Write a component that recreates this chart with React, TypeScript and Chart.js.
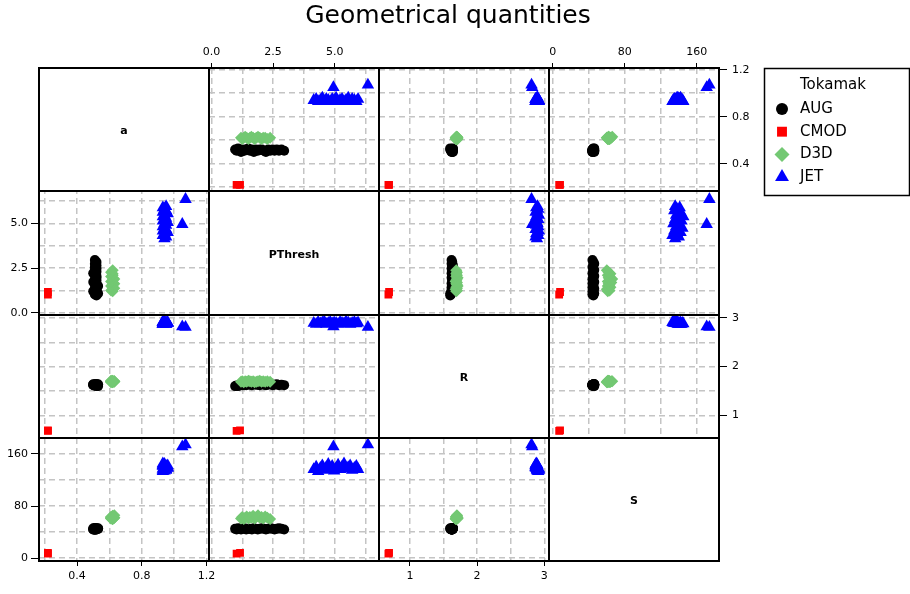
import React, { useEffect, useRef } from 'react';
import { Chart, registerables } from 'chart.js';

Chart.register(...registerables);

// ---------- text ----------
const chartTitle = 'Geometrical quantities';
const legendTitle = 'Tokamak';
const variables = ['a', 'PThresh', 'R', 'S'];
const tokamaks = ['AUG', 'CMOD', 'D3D', 'JET'];

// ---------- data (a, PThresh, R, S) ----------
const augA = [0.52, 0.51, 0.53, 0.52, 0.50, 0.52, 0.51, 0.52, 0.53, 0.51, 0.52, 0.50, 0.52, 0.51, 0.52, 0.52, 0.51, 0.50, 0.52, 0.51, 0.52, 0.51, 0.52, 0.51, 0.52, 0.51];
const augP = [0.96, 1.02, 1.08, 1.14, 1.20, 1.27, 1.34, 1.41, 1.49, 1.56, 1.64, 1.72, 1.80, 1.88, 1.96, 2.05, 2.13, 2.21, 2.30, 2.39, 2.48, 2.56, 2.65, 2.74, 2.84, 2.95];
const augR = [1.60, 1.61, 1.60, 1.62, 1.63, 1.62, 1.63, 1.62, 1.64, 1.63, 1.62, 1.64, 1.63, 1.63, 1.62, 1.64, 1.63, 1.62, 1.63, 1.64, 1.62, 1.63, 1.64, 1.62, 1.63, 1.62];
const augS = [45, 44, 46, 45, 44, 45, 46, 44, 45, 45, 44, 46, 45, 44, 45, 46, 45, 44, 45, 46, 45, 44, 45, 46, 45, 44];

const cmodA = [0.22, 0.22];
const cmodP = [1.02, 1.16];
const cmodR = [0.68, 0.69];
const cmodS = [7, 8];

const d3dA = [0.62, 0.61, 0.62, 0.63, 0.62, 0.61, 0.62, 0.63, 0.62, 0.61, 0.62, 0.63, 0.62, 0.61, 0.62, 0.62, 0.61, 0.62];
const d3dP = [1.20, 1.25, 1.31, 1.37, 1.43, 1.50, 1.56, 1.62, 1.69, 1.75, 1.82, 1.89, 1.96, 2.03, 2.10, 2.18, 2.27, 2.38];
const d3dR = [1.69, 1.70, 1.68, 1.70, 1.69, 1.71, 1.70, 1.69, 1.70, 1.68, 1.69, 1.70, 1.71, 1.69, 1.70, 1.69, 1.70, 1.69];
const d3dS = [61, 63, 60, 62, 64, 61, 63, 62, 65, 61, 63, 66, 62, 63, 61, 64, 62, 60];

const jetA = [0.94, 0.95, 0.93, 0.94, 0.96, 0.93, 0.95, 0.94, 0.93, 0.95, 0.94, 0.96, 0.93, 0.94, 0.95, 0.93, 0.94, 0.96, 0.93, 0.95, 0.94, 0.93, 0.95, 1.05, 1.07];
const jetP = [4.15, 4.25, 4.33, 4.42, 4.50, 4.58, 4.66, 4.74, 4.82, 4.90, 4.98, 5.06, 5.14, 5.22, 5.30, 5.38, 5.46, 5.55, 5.63, 5.71, 5.80, 5.88, 5.95, 4.95, 6.35];
const jetR = [2.89, 2.87, 2.91, 2.88, 2.90, 2.92, 2.87, 2.89, 2.91, 2.88, 2.90, 2.89, 2.87, 2.91, 2.89, 2.88, 2.92, 2.90, 2.87, 2.89, 2.91, 2.88, 2.90, 2.82, 2.81];
const jetS = [136, 140, 133, 138, 142, 135, 139, 144, 137, 141, 134, 138, 143, 136, 140, 145, 137, 139, 142, 135, 138, 141, 136, 171, 174];

// ---------- axes ----------
const axisMin = [0.165, -0.1, 0.54, -4.3];
const axisMax = [1.215, 6.8, 3.07, 184.7];

const aTicks = [0.4, 0.8, 1.2];
const pTicks = [0, 2.5, 5];
const rTicks = [1, 2, 3];
const sTicks = [0, 80, 160];
const aTickLabels = ['0.4', '0.8', '1.2'];
const pTickLabels = ['0.0', '2.5', '5.0'];
const rTickLabels = ['1', '2', '3'];
const sTickLabels = ['0', '80', '160'];
const aGrid = [0.2, 0.4, 0.6, 0.8, 1.0, 1.2];
const pGrid = [0, 1.25, 2.5, 3.75, 5, 6.25];
const rGrid = [1, 1.5, 2, 2.5, 3];
const sGrid = [0, 40, 80, 120, 160];

// ---------- styles ----------
const FONT = '"DejaVu Sans", Verdana, sans-serif';
const COLORS = ['#000000', '#ff0000', 'rgb(115,200,115)', '#0000ff'];
const SHAPES = ['circle', 'rect', 'rectRot', 'triangle'];
const RADII = [5, 5.5, 6, 7.2];
const LEGEND_RADII = [6, 7, 7.5, 8];

const groupVars = [
  [augA, augP, augR, augS],
  [cmodA, cmodP, cmodR, cmodS],
  [d3dA, d3dP, d3dR, d3dS],
  [jetA, jetP, jetR, jetS],
];

function buildDatasets() {
  const ds: any[] = [];
  for (let i = 0; i < 4; i++) {
    for (let j = 0; j < 4; j++) {
      if (i === j) continue;
      for (let g = 0; g < 4; g++) {
        const v = groupVars[g];
        ds.push({
          label: tokamaks[g],
          data: v[0].map((_: number, k: number) => ({ x: v[j][k], y: v[i][k] })),
          xAxisID: 'xb' + j,
          yAxisID: 'yl' + i,
          showLine: false,
          pointStyle: SHAPES[g],
          pointRadius: RADII[g],
          pointHoverRadius: RADII[g],
          pointBackgroundColor: COLORS[g],
          pointBorderColor: COLORS[g],
          pointBorderWidth: 0,
          backgroundColor: COLORS[g],
          borderColor: COLORS[g],
          order: 3 - g,
        });
      }
    }
  }
  return ds;
}

function buildScales() {
  const tickLists = [aTicks, pTicks, rTicks, sTicks];
  const labelLists = [aTickLabels, pTickLabels, rTickLabels, sTickLabels];
  const gridLists = [aGrid, pGrid, rGrid, sGrid];
  const xLabelPos = ['bottom', 'top', 'bottom', 'top'];
  const yLabelPos = ['right', 'left', 'right', 'left'];
  const sizes: any = { top: 68, bottom: 33, left: 39, right: 191 };
  const tickLen: any = { top: 5, bottom: 5, left: 8, right: 8 };
  const tickPad: any = { top: 4, bottom: 4, left: 3, right: 5 };
  const scales: any = {};
  const build = (axis: string, position: string, k: number, labelled: boolean, weight: number) => {
    const vals = labelled ? tickLists[k] : gridLists[k];
    return {
      type: 'linear',
      axis,
      position,
      stack: axis === 'x' ? 'cols' : 'rows',
      stackWeight: 1,
      weight,
      min: axisMin[k],
      max: axisMax[k],
      afterBuildTicks: (s: any) => {
        s.ticks = vals.map((v: number) => ({ value: v }));
      },
      afterFit: (s: any) => {
        if (axis === 'x') s.height = sizes[position];
        else s.width = sizes[position];
      },
      ticks: {
        display: labelled,
        autoSkip: false,
        maxRotation: 0,
        minRotation: 0,
        padding: tickPad[position],
        color: '#000',
        font: { family: FONT, size: 11 },
        callback: (_v: any, idx: number) => (labelled ? labelLists[k][idx] : ''),
      },
      grid: labelled
        ? { display: true, drawOnChartArea: false, drawTicks: true, tickLength: tickLen[position], tickColor: '#000', tickWidth: 1 }
        : { display: true, drawOnChartArea: true, drawTicks: false, color: '#c4c4c4', lineWidth: 1.5 },
      border: { display: false, dash: labelled ? [] : [6, 4] },
    };
  };
  for (let j = 0; j < 4; j++) {
    scales['xb' + j] = build('x', 'bottom', j, xLabelPos[j] === 'bottom', j);
    scales['xt' + j] = build('x', 'top', j, xLabelPos[j] === 'top', 3 - j);
  }
  for (let i = 0; i < 4; i++) {
    scales['yl' + i] = build('y', 'left', i, yLabelPos[i] === 'left', 3 - i);
    scales['yr' + i] = build('y', 'right', i, yLabelPos[i] === 'right', i);
  }
  return scales;
}

function drawShape(ctx: CanvasRenderingContext2D, shape: string, x: number, y: number, r: number) {
  ctx.beginPath();
  if (shape === 'circle') {
    ctx.arc(x, y, r, 0, Math.PI * 2);
  } else if (shape === 'rect') {
    const s = r * Math.SQRT1_2;
    ctx.rect(x - s, y - s, 2 * s, 2 * s);
  } else if (shape === 'rectRot') {
    ctx.moveTo(x, y - r);
    ctx.lineTo(x + r, y);
    ctx.lineTo(x, y + r);
    ctx.lineTo(x - r, y);
    ctx.closePath();
  } else {
    const h = r * Math.sin(Math.PI / 3);
    ctx.moveTo(x, y - r);
    ctx.lineTo(x + h, y + r / 2);
    ctx.lineTo(x - h, y + r / 2);
    ctx.closePath();
  }
  ctx.fill();
}

const splomPlugin = {
  id: 'splom',
  beforeDatasetsDraw(chart: any) {
    const ctx = chart.ctx;
    ctx.save();
    for (let i = 0; i < 4; i++) {
      const xs = chart.scales['xb' + i];
      const ys = chart.scales['yl' + i];
      ctx.fillStyle = '#ffffff';
      ctx.fillRect(xs.left, ys.top, xs.right - xs.left, ys.bottom - ys.top);
      ctx.fillStyle = '#000';
      ctx.font = 'bold 11px ' + FONT;
      ctx.textAlign = 'center';
      ctx.textBaseline = 'middle';
      ctx.fillText(variables[i], (xs.left + xs.right) / 2, (ys.top + ys.bottom) / 2 + 2);
    }
    ctx.restore();
  },
  afterDatasetsDraw(chart: any) {
    const ctx = chart.ctx;
    ctx.save();
    ctx.strokeStyle = '#000';
    ctx.lineWidth = 2;
    for (let i = 0; i < 4; i++) {
      for (let j = 0; j < 4; j++) {
        const xs = chart.scales['xb' + j];
        const ys = chart.scales['yl' + i];
        ctx.strokeRect(Math.round(xs.left), Math.round(ys.top), Math.round(xs.right) - Math.round(xs.left), Math.round(ys.bottom) - Math.round(ys.top));
      }
    }
    ctx.restore();
  },
  afterDraw(chart: any) {
    const ctx = chart.ctx;
    ctx.save();
    // title
    ctx.fillStyle = '#000';
    ctx.font = '25px ' + FONT;
    ctx.textAlign = 'center';
    ctx.textBaseline = 'alphabetic';
    ctx.fillText(chartTitle, 448, 23);
    // legend box
    const lx = 764, ly = 68, lw = 145, lh = 127;
    ctx.strokeStyle = '#000';
    ctx.lineWidth = 1.5;
    ctx.strokeRect(lx + 0.5, ly + 0.5, lw, lh);
    ctx.font = '15px ' + FONT;
    ctx.textAlign = 'left';
    ctx.textBaseline = 'middle';
    ctx.fillText(legendTitle, lx + 36, ly + 17);
    for (let g = 0; g < 4; g++) {
      const y = ly + 41 + g * 22.7;
      ctx.fillStyle = COLORS[g];
      drawShape(ctx, SHAPES[g], lx + 18, y, LEGEND_RADII[g]);
      ctx.fillStyle = '#000';
      ctx.fillText(tokamaks[g], lx + 36, y);
    }
    ctx.restore();
  },
};

export default function App() {
  const ref = useRef<HTMLCanvasElement>(null);
  useEffect(() => {
    const chart = new Chart(ref.current as HTMLCanvasElement, {
      type: 'scatter',
      data: { datasets: buildDatasets() },
      options: {
        animation: false,
        responsive: false,
        devicePixelRatio: 1,
        events: [],
        layout: { padding: 0 },
        plugins: {
          legend: { display: false },
          title: { display: false },
          tooltip: { enabled: false },
        },
        scales: buildScales(),
      } as any,
      plugins: [splomPlugin],
    });
    return () => chart.destroy();
  }, []);
  return (
    <div style={{ position: 'fixed', left: 0, top: 0, width: 910, height: 594, background: '#fff' }}>
      <canvas ref={ref} width={910} height={594} style={{ width: 910, height: 594, display: 'block' }} />
    </div>
  );
}
